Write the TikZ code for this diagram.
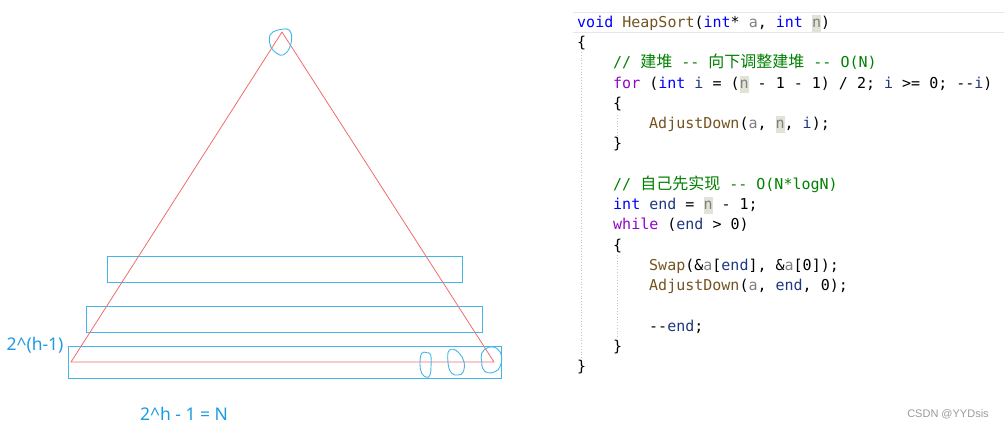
\documentclass[tikz,border=0pt]{standalone}
\usepackage{fontspec}
\setmonofont{DejaVu Sans Mono}
\newfontfamily\cjkf{Noto Sans CJK SC}
\newfontfamily\lblf{Noto Sans}
\newfontfamily\wmf{Liberation Sans}
\definecolor{kwblue}{HTML}{0000FF}
\definecolor{ctlpurple}{HTML}{8F08C4}
\definecolor{fnbrown}{HTML}{74531F}
\definecolor{pargray}{HTML}{808080}
\definecolor{locblue}{HTML}{1F377F}
\definecolor{comgreen}{HTML}{008000}
\definecolor{hlbg}{HTML}{E0E3D5}
\definecolor{guidegray}{HTML}{C4C4C4}
\definecolor{framegray}{HTML}{E6E6E6}
\definecolor{trired}{HTML}{F26B6B}
\definecolor{rectblue}{HTML}{45B5E8}
\definecolor{lblblue}{HTML}{1D9BE0}
\definecolor{wmgray}{HTML}{9A9A9A}
\newcommand\ckw[1]{\textcolor{kwblue}{#1}}
\newcommand\cctl[1]{\textcolor{ctlpurple}{#1}}
\newcommand\cfn[1]{\textcolor{fnbrown}{#1}}
\newcommand\cpar[1]{\textcolor{pargray}{#1}}
\newcommand\cloc[1]{\textcolor{locblue}{#1}}
\newcommand\ccom[1]{\textcolor{comgreen}{#1}}
\newcommand\zh[1]{{\cjkf\fontsize{16}{18}\selectfont #1}}
\newcommand\chl[1]{{\setlength{\fboxsep}{0pt}\colorbox{hlbg}{\rule[-4.5pt]{0pt}{17pt}\textcolor{pargray}{#1}}}}
\newcommand\codefs{\ttfamily\fontsize{15}{18}\selectfont}
\begin{document}
\begin{tikzpicture}[x=1pt,y=-1pt,
  codeline/.style={anchor=base west, inner sep=0pt, font=\codefs},
  tri/.style={draw=trired, line width=0.8pt},
  band/.style={draw=rectblue, line width=0.9pt},
  scrib/.style={draw=rectblue, line width=0.9pt},
  lbl/.style={text=lblblue, inner sep=0pt, font=\lblf\fontsize{17.5}{20}\selectfont},
  guide/.style={draw=guidegray, line width=0.8pt, dotted},
  frameline/.style={draw=framegray, line width=1.2pt}]
\useasboundingbox (0,0) rectangle (1004,430);
% ---------- left: heap triangle ----------
\coordinate (apex) at (282,32);
\coordinate (bl) at (71,362);
\coordinate (br) at (494,362);
\draw[band] (107,256) rectangle (462,282);
\draw[band] (86,306) rectangle (482,332);
\draw[band] (68,346) rectangle (501,378);
\draw[tri] (apex) -- (bl) -- (br) -- cycle;
\draw[scrib] plot[smooth cycle, tension=0.7] coordinates {(270,35) (273.3,31.7) (281.7,29.3) (289.3,30) (291.7,38.3) (289.3,48.3) (283.3,55) (276.7,53.3) (270.7,46.7) (269.3,38.3)};
\draw[scrib] plot[smooth cycle, tension=0.7] coordinates {(421.7,353.3) (426.7,352.7) (430.7,355) (431,366.7) (430,375) (426.7,377.3) (421.7,373.3) (420,363.3)};
\draw[scrib] plot[smooth cycle, tension=0.7] coordinates {(448.3,351.7) (453.3,349.3) (459.3,353.3) (464,361.7) (463.3,371.7) (458.3,375) (451.7,373.3) (448.3,365)};
\draw[scrib] plot[smooth cycle, tension=0.7] coordinates {(481.7,353.3) (488.3,347.3) (496.7,348.3) (501.7,356.7) (500,366.7) (495,371.7) (487.3,372.7) (482.7,368.3) (481.7,361.7)};
\node[lbl] (lvl) at (35,345) {2\textasciicircum(h-1)};
\node[lbl] (total) at (184,414) {2\textasciicircum h - 1 = N};
% ---------- right: code ----------
\draw[frameline] (573,12.5) -- (1004,12.5);
\draw[frameline] (573,32.5) -- (1004,32.5);
\draw[guide] (581,52) -- (581,362);
\draw[guide] (617,115) -- (617,138);
\draw[guide] (617,255) -- (617,337);
\node[codeline] (c0) at (577,27.5) {\ckw{void} \cfn{HeapSort}(\ckw{int}* \cpar{a}, \ckw{int} \chl{n})};
\node[codeline] (c1) at (577,47.75) {\{};
\node[codeline] (c2) at (613,68) {\ccom{// \zh{建堆} -{}- \zh{向下调整建堆} -{}- O(N)}};
\node[codeline] (c3) at (613,88.25) {\cctl{for} (\ckw{int} \cloc{i} = (\chl{n} - 1 - 1) / 2; \cloc{i} >= 0; -{}-\cloc{i})};
\node[codeline] (c4) at (613,108.5) {\{};
\node[codeline] (c5) at (649,128.75) {\cfn{AdjustDown}(\cpar{a}, \chl{n}, \cloc{i});};
\node[codeline] (c6) at (613,149) {\}};
\node[codeline] (c8) at (613,189.5) {\ccom{// \zh{自己先实现} -{}- O(N*logN)}};
\node[codeline] (c9) at (613,209.75) {\ckw{int} \cloc{end} = \chl{n} - 1;};
\node[codeline] (c10) at (613,230) {\cctl{while} (\cloc{end} > 0)};
\node[codeline] (c11) at (613,250.25) {\{};
\node[codeline] (c12) at (649,270.5) {\cfn{Swap}(\&\cpar{a}[\cloc{end}], \&\cpar{a}[0]);};
\node[codeline] (c13) at (649,290.75) {\cfn{AdjustDown}(\cpar{a}, \cloc{end}, 0);};
\node[codeline] (c15) at (649,331.25) {-{}-\cloc{end};};
\node[codeline] (c16) at (613,351.5) {\}};
\node[codeline] (c17) at (577,371.75) {\}};
% ---------- watermark ----------
\node[text=wmgray, inner sep=0pt, font=\wmf\fontsize{11}{13}\selectfont] (wm) at (948,414) {CSDN @YYDsis};
\end{tikzpicture}
\end{document}
